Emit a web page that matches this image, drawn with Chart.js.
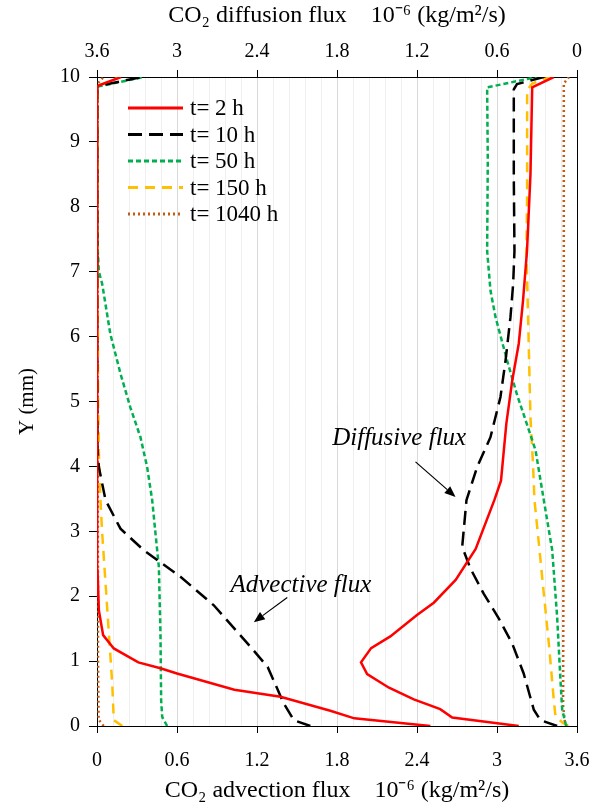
<!DOCTYPE html>
<html>
<head>
<meta charset="utf-8">
<script src="https://cdn.jsdelivr.net/npm/chart.js@4.4.1/dist/chart.umd.min.js"></script>
<style>
html,body{margin:0;padding:0;background:#fff;}
canvas{display:block;}
</style>
</head>
<body>
<canvas id="c" width="598" height="803"></canvas>
<script>
// ---------- DATA ----------
const seriesNames = ['t= 2 h', 't= 10 h', 't= 50 h', 't= 150 h', 't= 1040 h'];
const xMajorTicks = [0, 0.6, 1.2, 1.8, 2.4, 3, 3.6];
const yTicks = [0,1,2,3,4,5,6,7,8,9,10];

// Advection flux (bottom axis) — Y (mm) and value
const adv2hY = [0, 0.118, 0.235, 0.45, 0.56, 0.81, 0.89, 0.98, 1.195, 1.4, 1.78, 2.4, 3, 5, 7, 9, 9.86, 10];
const adv2hV = [2.5, 1.93, 1.75, 1.376, 1.03, 0.60, 0.476, 0.31, 0.126, 0.046, 0.014, 0.004, 0.002, 0.001, 0.001, 0.001, 0.002, 0.18];
const adv10hY = [0, 0.09, 0.35, 0.91, 1.27, 1.86, 2.30, 2.71, 3.04, 3.48, 3.99, 4.3, 6, 8, 9.86, 10];
const adv10hV = [1.60, 1.476, 1.40, 1.28, 1.13, 0.876, 0.626, 0.35, 0.176, 0.064, 0.014, 0.003, 0.001, 0.001, 0.001, 0.34];
const adv50hY = [0, 0.14, 0.4, 1.43, 2.45, 2.96, 3.48, 3.99, 4.45, 4.91, 5.43, 6.04, 6.81, 7.0, 7.32, 8, 9.85, 10];
const adv50hV = [0.526, 0.489, 0.481, 0.476, 0.464, 0.439, 0.414, 0.376, 0.326, 0.25, 0.176, 0.10, 0.039, 0.014, 0.006, 0.002, 0.002, 0.35];
const adv150hY = [0, 0.09, 0.66, 1.43, 2.2, 2.97, 3.48, 4.1, 5, 7, 9.86, 10];
const adv150hV = [0.19, 0.126, 0.114, 0.089, 0.064, 0.039, 0.026, 0.015, 0.008, 0.005, 0.005, 0.17];
const adv1040hY = [0, 0.1, 1, 5, 9.9, 10];
const adv1040hV = [0.05, 0.012, 0.008, 0.005, 0.005, 0.05];

// Diffusion flux (top axis, reversed) — Y (mm) and value
const dif2hY = [0, 0.13, 0.26, 0.41, 0.59, 0.8, 0.98, 1.2, 1.38, 1.71, 1.9, 2.25, 2.73, 3.48, 3.78, 4.66, 5.32, 5.89, 6.55, 7.32, 8.5, 9.84, 10];
const dif2hV = [0.437, 0.936, 1.026, 1.224, 1.41, 1.574, 1.62, 1.544, 1.40, 1.20, 1.074, 0.91, 0.76, 0.62, 0.57, 0.53, 0.486, 0.437, 0.405, 0.375, 0.349, 0.336, 0.174];
const dif10hY = [0, 0.09, 0.25, 0.81, 1.27, 1.66, 2.04, 2.43, 2.76, 3.48, 3.99, 4.45, 5.07, 5.63, 6.30, 6.81, 7.32, 8.45, 9.81, 9.89, 10];
const dif10hV = [0.149, 0.274, 0.324, 0.40, 0.486, 0.587, 0.70, 0.80, 0.861, 0.829, 0.749, 0.649, 0.574, 0.536, 0.499, 0.479, 0.469, 0.474, 0.474, 0.45, 0.25];
const dif50hY = [0, 0.04, 0.25, 0.71, 1.68, 2.71, 3.48, 4.25, 4.64, 5.1, 5.63, 6.3, 6.71, 7.32, 8.71, 9.84, 10];
const dif50hV = [0.08, 0.086, 0.111, 0.124, 0.149, 0.186, 0.249, 0.311, 0.374, 0.449, 0.524, 0.611, 0.649, 0.674, 0.669, 0.674, 0.30];
const dif150hY = [0, 0.04, 0.14, 0.4, 1.27, 2.04, 2.81, 3.48, 3.99, 4.76, 5.78, 7.32, 8.2, 9.8, 9.9, 10];
const dif150hV = [0.069, 0.099, 0.161, 0.174, 0.211, 0.249, 0.286, 0.319, 0.329, 0.349, 0.361, 0.379, 0.374, 0.374, 0.336, 0.20];
const dif1040hY = [0, 0.05, 0.3, 5, 9.9, 10];
const dif1040hV = [0.07, 0.09, 0.104, 0.099, 0.099, 0.06];

// Annotations (data coordinates on bottom axis / Y)
const annotations = [
  {text: 'Diffusive flux', x: 1.764, y: 4.43, from: [2.389, 4.07], to: [2.689, 3.53]},
  {text: 'Advective flux', x: 1.001, y: 2.17, from: [1.427, 1.98], to: [1.176, 1.60]}
];

// ---------- STYLES ----------
const styles = [
  {color: '#ff0000', dash: [], width: 2.5},
  {color: '#000000', dash: [14, 7], width: 2.5},
  {color: '#00b050', dash: [5, 3], width: 2.5},
  {color: '#ffc000', dash: [10, 7], width: 2.5},
  {color: '#c55a11', dash: [2, 3], width: 2.5}
];
const FONT = "'Liberation Serif', 'Times New Roman', serif";

function pts(ys, vs){ return ys.map((y,i)=>({x: vs[i], y: y})); }
const advSets = [[adv2hY,adv2hV],[adv10hY,adv10hV],[adv50hY,adv50hV],[adv150hY,adv150hV],[adv1040hY,adv1040hV]];
const difSets = [[dif2hY,dif2hV],[dif10hY,dif10hV],[dif50hY,dif50hV],[dif150hY,dif150hV],[dif1040hY,dif1040hV]];

const datasets = [];
seriesNames.forEach((n,i)=>{
  const s = styles[i];
  datasets.push({label: n, data: pts(advSets[i][0], advSets[i][1]), xAxisID: 'x', yAxisID: 'y',
    borderColor: s.color, borderDash: s.dash, borderWidth: s.width, showLine: true, pointRadius: 0, tension: 0, fill: false});
  datasets.push({label: n + ' diff', data: pts(difSets[i][0], difSets[i][1]), xAxisID: 'x2', yAxisID: 'y',
    borderColor: s.color, borderDash: s.dash, borderWidth: s.width, showLine: true, pointRadius: 0, tension: 0, fill: false});
});

function isMajor(v){ return xMajorTicks.some(t => Math.abs(t - v) < 1e-6); }
function fmt(v){ return String(Math.round(v*10)/10); }
function noPad(s){ s.paddingLeft = 0; s.paddingRight = 0; s.paddingTop = 0; s.paddingBottom = 0; }

const legendPlugin = {
  id: 'customLegend',
  afterDatasetsDraw(chart){
    const ctx = chart.ctx, ca = chart.chartArea;
    ctx.save();
    ctx.font = "23px " + FONT;
    ctx.textBaseline = 'middle';
    ctx.fillStyle = '#000';
    seriesNames.forEach((n,i)=>{
      const s = styles[i];
      const y = ca.top + 31 + i*26.5;
      const x0 = ca.left + 31, x1 = ca.left + 86;
      ctx.beginPath();
      ctx.setLineDash(s.dash);
      ctx.strokeStyle = s.color;
      ctx.lineWidth = s.width + 0.5;
      ctx.moveTo(x0, y); ctx.lineTo(x1, y); ctx.stroke();
      ctx.setLineDash([]);
      ctx.fillText(n, ca.left + 93, y + 1);
    });
    // annotations
    const sx = chart.scales.x, sy = chart.scales.y;
    ctx.font = "italic 25px " + FONT;
    annotations.forEach(a=>{
      ctx.fillStyle = '#000';
      ctx.fillText(a.text, sx.getPixelForValue(a.x), sy.getPixelForValue(a.y));
      const fx = sx.getPixelForValue(a.from[0]), fy = sy.getPixelForValue(a.from[1]);
      const tx = sx.getPixelForValue(a.to[0]), ty = sy.getPixelForValue(a.to[1]);
      const ang = Math.atan2(ty-fy, tx-fx);
      const L = 11, W = 4.5;
      const bx = tx - L*Math.cos(ang), by = ty - L*Math.sin(ang);
      ctx.beginPath(); ctx.strokeStyle='#000'; ctx.lineWidth=1.2;
      ctx.moveTo(fx, fy); ctx.lineTo(bx, by); ctx.stroke();
      ctx.beginPath();
      ctx.moveTo(tx, ty);
      ctx.lineTo(bx + W*Math.sin(ang), by - W*Math.cos(ang));
      ctx.lineTo(bx - W*Math.sin(ang), by + W*Math.cos(ang));
      ctx.closePath(); ctx.fill();
    });
    ctx.restore();
  }
};

new Chart(document.getElementById('c'), {
  type: 'scatter',
  data: {datasets},
  plugins: [legendPlugin],
  options: {
    responsive: false,
    animation: false,
    layout: {padding: 0},
    plugins: {legend: {display: false}, tooltip: {enabled: false}},
    scales: {
      x: {
        type: 'linear', position: 'bottom', min: 0, max: 3.6,
        afterFit(s){ s.height = 77; noPad(s); },
        ticks: {stepSize: 0.12, autoSkip: false, maxRotation: 0, color: '#000', padding: 16,
          font: {family: FONT, size: 20},
          callback: v => isMajor(v) ? fmt(v) : ''},
        grid: {color: c => isMajor(c.tick.value) ? '#d9d9d9' : '#efefef', lineWidth: 1,
          tickColor: c => isMajor(c.tick.value) ? '#000' : 'rgba(0,0,0,0)', tickLength: 7},
        border: {color: '#000', width: 1},
        title: {display: true, text: 'CO\u2082 advection flux    10\u207B\u2076 (kg/m\u00B2/s)', color: '#000',
          font: {family: FONT, size: 24, lineHeight: 1}, padding: {top: 0, bottom: 0}}
      },
      x2: {
        type: 'linear', position: 'top', min: 0, max: 3.6, reverse: true,
        afterFit(s){ s.height = 77; noPad(s); },
        ticks: {stepSize: 0.6, autoSkip: false, maxRotation: 0, color: '#000', padding: 6,
          font: {family: FONT, size: 20}, callback: v => fmt(v)},
        grid: {drawOnChartArea: false, tickColor: '#000', tickLength: 7},
        border: {color: '#000', width: 1},
        title: {display: true, text: 'CO\u2082 diffusion flux    10\u207B\u2076 (kg/m\u00B2/s)', color: '#000',
          font: {family: FONT, size: 24, lineHeight: 1}, padding: {top: 4, bottom: 0}}
      },
      y: {
        type: 'linear', position: 'left', min: 0, max: 10,
        afterFit(s){ s.width = 97; noPad(s); },
        ticks: {stepSize: 1, color: '#000', padding: 9, font: {family: FONT, size: 20},
          callback: v => yTicks.includes(v) ? String(v) : ''},
        grid: {drawOnChartArea: false, tickColor: '#000', tickLength: 8},
        border: {color: '#000', width: 1},
        title: {display: true, text: 'Y (mm)', color: '#000', font: {family: FONT, size: 21}, padding: {top: 15, bottom: 0}}
      },
      y2: {
        type: 'linear', position: 'right', min: 0, max: 10,
        afterFit(s){ s.width = 21; noPad(s); },
        ticks: {display: false},
        grid: {drawOnChartArea: false, drawTicks: false},
        border: {color: '#000', width: 1}
      }
    }
  }
});
</script>
</body>
</html>
